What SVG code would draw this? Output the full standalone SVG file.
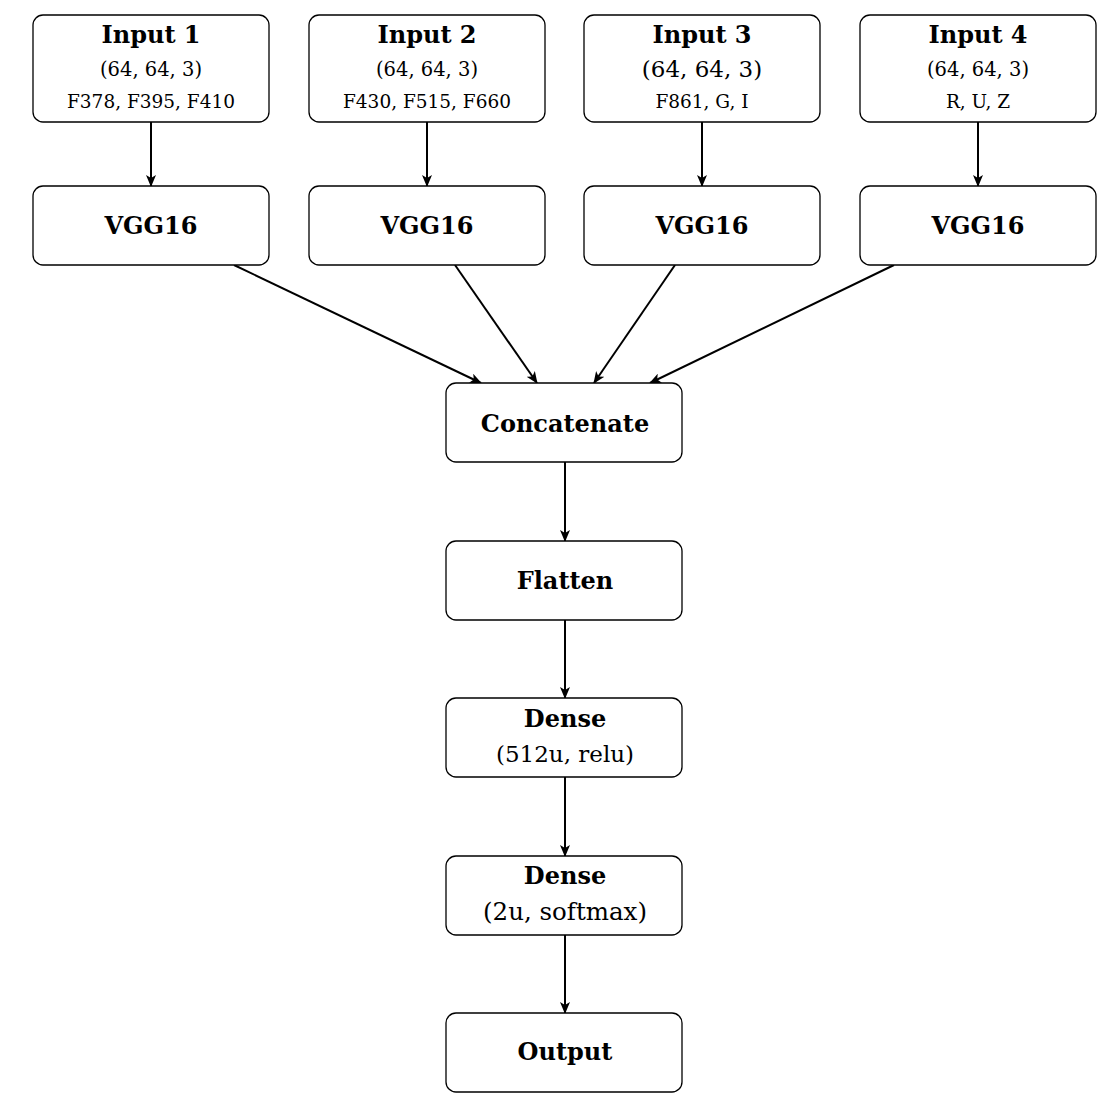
<svg xmlns="http://www.w3.org/2000/svg" width="1111" height="1107" viewBox="0 0 1111 1107">
<style>
.box{fill:#fff;stroke:#000;stroke-width:1.3}
.t{font-family:"DejaVu Serif","Liberation Serif",serif;text-anchor:middle;fill:#000}
.b{font-weight:bold;font-size:24px}
.m{font-size:19.5px}
.l{font-size:23px}
.s{font-size:18.5px}
.c line{stroke:#000;stroke-width:2;marker-end:url(#ah)}
</style>
<defs>
<marker id="ah" viewBox="0 0 12 10" refX="11" refY="5" markerWidth="6" markerHeight="5" orient="auto" markerUnits="strokeWidth">
<path d="M0,0 L12,5 L0,10 L3,5 Z" fill="#000"/>
</marker>
</defs>
<g class="c">
<line x1="151" y1="122" x2="151" y2="186"/>
<line x1="427" y1="122" x2="427" y2="186"/>
<line x1="702" y1="122" x2="702" y2="186"/>
<line x1="978" y1="122" x2="978" y2="186"/>
<line x1="234" y1="265" x2="481" y2="383"/>
<line x1="455" y1="265" x2="537" y2="383"/>
<line x1="675" y1="265" x2="594" y2="383"/>
<line x1="894" y1="265" x2="650" y2="383"/>
<line x1="565" y1="462" x2="565" y2="541"/>
<line x1="565" y1="620" x2="565" y2="698"/>
<line x1="565" y1="777" x2="565" y2="856"/>
<line x1="565" y1="935" x2="565" y2="1013"/>
</g>
<g id="input1"><rect class="box" x="33" y="15" width="236" height="107" rx="10"/>
<text class="t b" x="151" y="43">Input 1</text><text class="t m" x="151" y="76">(64, 64, 3)</text><text class="t s" x="151" y="108">F378, F395, F410</text></g>
<g id="input2"><rect class="box" x="309" y="15" width="236" height="107" rx="10"/>
<text class="t b" x="427" y="43">Input 2</text><text class="t m" x="427" y="76">(64, 64, 3)</text><text class="t s" x="427" y="108">F430, F515, F660</text></g>
<g id="input3"><rect class="box" x="584" y="15" width="236" height="107" rx="10"/>
<text class="t b" x="702" y="43">Input 3</text><text class="t l" x="702" y="77">(64, 64, 3)</text><text class="t s" x="702" y="108">F861, G, I</text></g>
<g id="input4"><rect class="box" x="860" y="15" width="236" height="107" rx="10"/>
<text class="t b" x="978" y="43">Input 4</text><text class="t m" x="978" y="76">(64, 64, 3)</text><text class="t s" x="978" y="108">R, U, Z</text></g>
<g id="vgg1"><rect class="box" x="33" y="186" width="236" height="79" rx="10"/><text class="t b" x="151" y="234">VGG16</text></g>
<g id="vgg2"><rect class="box" x="309" y="186" width="236" height="79" rx="10"/><text class="t b" x="427" y="234">VGG16</text></g>
<g id="vgg3"><rect class="box" x="584" y="186" width="236" height="79" rx="10"/><text class="t b" x="702" y="234">VGG16</text></g>
<g id="vgg4"><rect class="box" x="860" y="186" width="236" height="79" rx="10"/><text class="t b" x="978" y="234">VGG16</text></g>
<g id="concat"><rect class="box" x="446" y="383" width="236" height="79" rx="10"/><text class="t b" x="565" y="432">Concatenate</text></g>
<g id="flatten"><rect class="box" x="446" y="541" width="236" height="79" rx="10"/><text class="t b" x="565" y="589">Flatten</text></g>
<g id="dense1"><rect class="box" x="446" y="698" width="236" height="79" rx="10"/>
<text class="t b" x="565" y="727">Dense</text><text class="t l" x="565" y="762">(512u, relu)</text></g>
<g id="dense2"><rect class="box" x="446" y="856" width="236" height="79" rx="10"/>
<text class="t b" x="565" y="884">Dense</text><text class="t" style="font-size:24.5px" x="565" y="920">(2u, softmax)</text></g>
<g id="output"><rect class="box" x="446" y="1013" width="236" height="79" rx="10"/><text class="t b" x="565" y="1060">Output</text></g>
</svg>
